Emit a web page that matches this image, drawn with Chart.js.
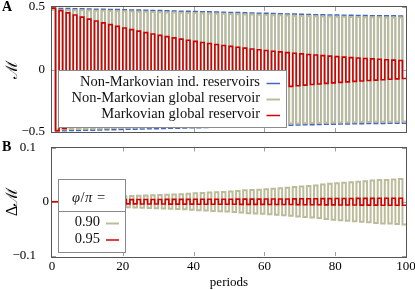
<!DOCTYPE html>
<html><head><meta charset="utf-8">
<script src="https://cdn.jsdelivr.net/npm/chart.js@4"></script>
<style>
body{margin:0;background:#fff;width:415px;height:290px;overflow:hidden;position:relative}
canvas{position:absolute;left:0;display:block}
</style>
</head><body>
<canvas id="a" width="415" height="140" style="top:0"></canvas>
<canvas id="b" width="415" height="150" style="top:140px"></canvas>
<script>
// ---------------- data ----------------
const xTickValues = [0, 20, 40, 60, 80, 100];
const yTickValuesA = [-0.5, 0, 0.5];
const yTickValuesB = [-0.1, 0, 0.1];
const seriesNamesA = ['Non-Markovian ind. reservoirs', 'Non-Markovian global reservoir', 'Markovian global reservoir'];
const seriesNamesB = ['0.90', '0.95'];
const legendTitleB = ['\u03C6', '/', '\u03C0', ' ='];

// amplitude of each full oscillation (one cycle = 2 periods: + during even period, - during odd period)
const blueAmp = [0.490,0.489,0.488,0.487,0.486,0.485,0.483,0.482,0.481,0.480,
                 0.478,0.477,0.476,0.474,0.473,0.472,0.470,0.469,0.467,0.466,
                 0.465,0.463,0.462,0.460,0.459,0.457,0.456,0.454,0.453,0.451,
                 0.450,0.448,0.447,0.445,0.444,0.442,0.441,0.439,0.438,0.437,
                 0.436,0.435,0.434,0.433,0.432,0.431,0.431,0.430,0.430,0.429];
const oliveAmp = [0.478,0.477,0.476,0.475,0.474,0.472,0.471,0.470,0.468,0.467,
                  0.466,0.464,0.463,0.462,0.460,0.459,0.457,0.456,0.455,0.453,
                  0.452,0.450,0.449,0.447,0.446,0.444,0.443,0.441,0.440,0.438,
                  0.437,0.435,0.434,0.432,0.431,0.429,0.428,0.427,0.425,0.424,
                  0.423,0.422,0.421,0.420,0.419,0.418,0.418,0.417,0.417,0.416];
const redAmp = [0.490,0.471,0.453,0.436,0.419,0.403,0.388,0.373,0.359,0.345,
                0.332,0.319,0.307,0.295,0.284,0.273,0.263,0.253,0.243,0.234,
                0.225,0.216,0.208,0.200,0.192,0.185,0.178,0.171,0.164,0.158,
                0.152,0.146,0.141,0.135,0.130,0.125,0.120,0.116,0.111,0.107,
                0.103,0.099,0.095,0.092,0.088,0.085,0.082,0.078,0.075,0.072];
const dOliveAmp = [0,0,0,0,0,0,0,0,0,0,
                   0.0100,0.0105,0.0110,0.0115,0.0120,0.0125,0.0130,0.0135,0.0140,0.0148,
                   0.0155,0.0160,0.0170,0.0175,0.0180,0.0190,0.0200,0.0210,0.0215,0.0220,
                   0.0230,0.0240,0.0250,0.0260,0.0270,0.0280,0.0290,0.0300,0.0320,0.0330,
                   0.0340,0.0350,0.0360,0.0370,0.0380,0.0390,0.0400,0.0400,0.0410,0.0420];
const dRedAmp = [0,0,0,0,0,0,0,0,0,0,
                 0.0040,0.0040,0.0041,0.0041,0.0042,0.0042,0.0043,0.0043,0.0044,0.0044,
                 0.0045,0.0045,0.0046,0.0046,0.0047,0.0047,0.0048,0.0048,0.0049,0.0049,
                 0.0050,0.0051,0.0051,0.0052,0.0053,0.0054,0.0055,0.0056,0.0057,0.0058,
                 0.0059,0.0060,0.0061,0.0062,0.0062,0.0063,0.0064,0.0064,0.0065,0.0065];

// ---------------- helpers ----------------
const SERIF = '"Liberation Serif", "DejaVu Serif", serif';
const COL_BLUE = '#4466c4', COL_OLIVE = '#bcbc9a', COL_RED = '#d40000';

function squareWave(amp) {
  const pts = [];
  for (let k = 0; k < amp.length * 2; k++) {
    const a = amp[Math.floor(k / 2)];
    pts.push({x: k, y: k % 2 === 0 ? a : -a});
  }
  pts.push({x: amp.length * 2, y: pts[pts.length - 1].y});
  return pts;
}
const fmt = v => (v < 0 ? '\u2212' : '') + String(Math.abs(v));

function framePlugin(xt, yt) {
  return {
    id: 'frame',
    beforeDatasetsDraw(chart) {
      const {ctx, chartArea: {left, right, top, bottom}, scales: {x, y}} = chart;
      ctx.save();
      ctx.strokeStyle = '#a0a0a0'; ctx.lineWidth = 1;
      ctx.beginPath();
      xt.forEach(v => {
        const px = Math.round(x.getPixelForValue(v)) + 0.5;
        ctx.moveTo(px, bottom); ctx.lineTo(px, bottom - 4);
        ctx.moveTo(px, top); ctx.lineTo(px, top + 4);
      });
      yt.forEach(v => {
        const py = Math.round(y.getPixelForValue(v)) + 0.5;
        ctx.moveTo(left, py); ctx.lineTo(left + 4, py);
        ctx.moveTo(right, py); ctx.lineTo(right - 4, py);
      });
      ctx.stroke();
      ctx.restore();
    },
    afterDatasetsDraw(chart) {
      const {ctx, chartArea: {left, right, top, bottom}} = chart;
      ctx.save();
      ctx.strokeStyle = '#555'; ctx.lineWidth = 1;
      ctx.strokeRect(Math.round(left) - 0.5, Math.round(top) - 0.5, Math.round(right - left) + 1, Math.round(bottom - top) + 1);
      ctx.restore();
    }
  };
}

function panelLabel(txt) {
  return {
    id: 'panelLabel',
    afterDraw(chart) {
      const ctx = chart.ctx;
      ctx.save();
      ctx.font = 'bold 14px ' + SERIF;
      ctx.fillStyle = '#000';
      ctx.textAlign = 'left'; ctx.textBaseline = 'alphabetic';
      ctx.fillText(txt, 2, 11);
      ctx.restore();
    }
  };
}

const legendA = {
  id: 'legendA',
  afterDraw(chart) {
    const ctx = chart.ctx;
    ctx.save();
    ctx.fillStyle = '#fff';
    ctx.fillRect(58, 70, 229, 58);
    ctx.strokeStyle = '#8a8a8a'; ctx.lineWidth = 1;
    ctx.strokeRect(58.5, 70.5, 228, 57);
    ctx.font = '14.5px ' + SERIF;
    ctx.fillStyle = '#111';
    ctx.textAlign = 'right'; ctx.textBaseline = 'middle';
    const rows = [[seriesNamesA[0], COL_BLUE, 1.5], [seriesNamesA[1], COL_OLIVE, 2], [seriesNamesA[2], COL_RED, 1.5]];
    rows.forEach((r, i) => {
      const yc = 82 + i * 16;
      ctx.fillText(r[0], 260, yc);
      ctx.strokeStyle = r[1]; ctx.lineWidth = r[2];
      ctx.beginPath(); ctx.moveTo(266.5, yc + 1.5); ctx.lineTo(280, yc + 1.5); ctx.stroke();
    });
    ctx.restore();
  }
};

const legendB = {
  id: 'legendB',
  afterDraw(chart) {
    const ctx = chart.ctx;
    ctx.save();
    ctx.fillStyle = '#fff';
    ctx.fillRect(58, 39, 68, 74);
    ctx.strokeStyle = '#8a8a8a'; ctx.lineWidth = 1;
    ctx.strokeRect(58.5, 39.5, 67, 73);
    ctx.beginPath(); ctx.moveTo(58.5, 71.5); ctx.lineTo(125.5, 71.5); ctx.stroke();
    ctx.fillStyle = '#111';
    ctx.textBaseline = 'middle'; ctx.textAlign = 'left';
    let xx = 72;
    legendTitleB.forEach((p, i) => {
      ctx.font = (i % 2 === 0 ? 'italic ' : '') + '14.5px ' + SERIF;
      ctx.fillText(p, xx, 58);
      xx += ctx.measureText(p).width + (i === 2 ? 1 : 0.5);
    });
    ctx.font = '14.5px ' + SERIF;
    const rows = [[seriesNamesB[0], COL_OLIVE, 2], [seriesNamesB[1], COL_RED, 1.5]];
    rows.forEach((r, i) => {
      const yc = 82.5 + i * 16.5;
      ctx.textAlign = 'right';
      ctx.fillText(r[0], 100, yc);
      ctx.strokeStyle = r[1]; ctx.lineWidth = r[2];
      ctx.beginPath(); ctx.moveTo(106, yc + 1); ctx.lineTo(119, yc + 1); ctx.stroke();
    });
    ctx.restore();
  }
};

const baseLine = {pointRadius: 0, stepped: 'before', fill: false, tension: 0};

// ---------------- panel A ----------------
new Chart(document.getElementById('a'), {
  type: 'line',
  data: {datasets: [
    Object.assign({label: seriesNamesA[2], data: squareWave(redAmp), borderColor: COL_RED, borderWidth: 1.6, order: 0}, baseLine),
    Object.assign({label: seriesNamesA[1], data: squareWave(oliveAmp), borderColor: COL_OLIVE, borderWidth: 2, order: 1}, baseLine),
    Object.assign({label: seriesNamesA[0], data: squareWave(blueAmp), borderColor: COL_BLUE, borderWidth: 1.5, order: 2}, baseLine)
  ]},
  options: {
    responsive: false, animation: false, devicePixelRatio: 1,
    layout: {padding: {top: 7, right: 9, bottom: 8, left: 0}},
    plugins: {legend: {display: false}, tooltip: {enabled: false}},
    scales: {
      x: {type: 'linear', min: 0, max: 100,
          ticks: {display: false}, grid: {display: false, drawTicks: false}, border: {display: false},
          afterFit: s => { s.height = 0; s.paddingLeft = 0; s.paddingRight = 0; }},
      y: {type: 'linear', min: -0.5, max: 0.5,
          afterBuildTicks: s => { s.ticks = yTickValuesA.map(v => ({value: v})); },
          ticks: {callback: v => fmt(v), padding: 7, color: '#000', font: {family: SERIF, size: 13}},
          grid: {display: false, drawTicks: false}, border: {display: false},
          title: {display: true, text: '\u2133', color: '#000', padding: {top: 3, bottom: 0}, font: {family: SERIF, size: 16}},
          afterFit: s => { s.width = 52; s.paddingTop = 0; s.paddingBottom = 0; }}
    }
  },
  plugins: [framePlugin(xTickValues.slice(1, -1), yTickValuesA), legendA, panelLabel('A')]
});

// ---------------- panel B ----------------
new Chart(document.getElementById('b'), {
  type: 'line',
  data: {datasets: [
    Object.assign({label: seriesNamesB[1], data: squareWave(dRedAmp), borderColor: COL_RED, borderWidth: 1.6, order: 0}, baseLine),
    Object.assign({label: seriesNamesB[0], data: squareWave(dOliveAmp), borderColor: COL_OLIVE, borderWidth: 2, order: 1}, baseLine)
  ]},
  options: {
    responsive: false, animation: false, devicePixelRatio: 1,
    layout: {padding: {top: 7.5, right: 9, bottom: 0, left: 0}},
    plugins: {legend: {display: false}, tooltip: {enabled: false}},
    scales: {
      x: {type: 'linear', min: 0, max: 100,
          afterBuildTicks: s => { s.ticks = xTickValues.map(v => ({value: v})); },
          ticks: {padding: 3, color: '#000', font: {family: SERIF, size: 13}, maxRotation: 0, autoSkip: false},
          grid: {display: false, drawTicks: false}, border: {display: false},
          title: {display: true, text: 'periods', color: '#000', padding: {top: 0, bottom: 0}, font: {family: SERIF, size: 13}},
          afterFit: s => { s.height = 34; s.paddingLeft = 0; s.paddingRight = 0; }},
      y: {type: 'linear', min: -0.1, max: 0.1,
          afterBuildTicks: s => { s.ticks = yTickValuesB.map(v => ({value: v})); },
          ticks: {callback: v => fmt(v) + (v === 0 ? '' : '\u2007\u2007'), padding: 3, color: '#000', font: {family: SERIF, size: 13}},
          grid: {display: false, drawTicks: false}, border: {display: false},
          title: {display: true, text: '\u0394\u2133', color: '#000', padding: {top: 3, bottom: 0}, font: {family: SERIF, size: 16}},
          afterFit: s => { s.width = 52; s.paddingTop = 0; s.paddingBottom = 0; }}
    }
  },
  plugins: [framePlugin(xTickValues.slice(1, -1), yTickValuesB), legendB, panelLabel('B')]
});
</script>
</body></html>
